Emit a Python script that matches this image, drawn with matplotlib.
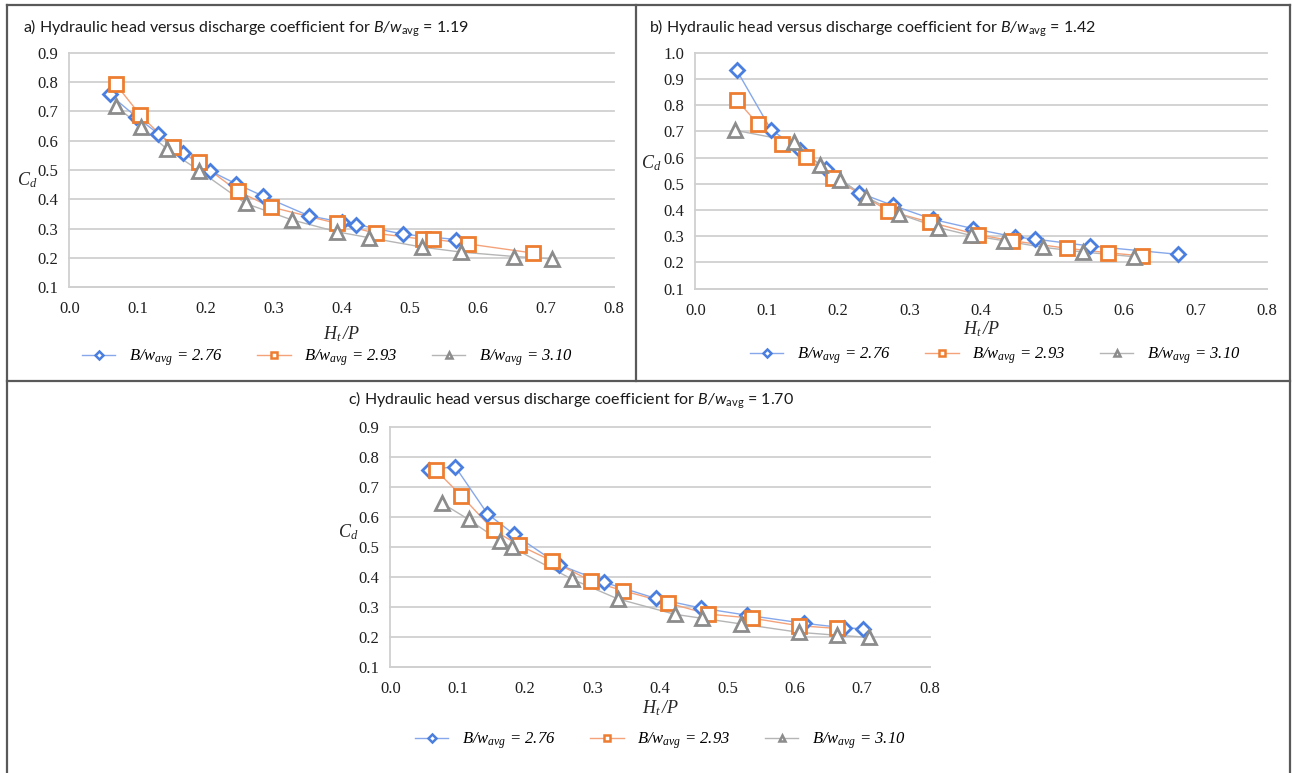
import matplotlib
matplotlib.use("Agg")
import matplotlib.pyplot as plt
from matplotlib.lines import Line2D

plt.rcParams['font.family'] = ['Liberation Serif']
plt.rcParams['mathtext.fontset'] = 'custom'
plt.rcParams['mathtext.it'] = 'Liberation Serif:italic'
plt.rcParams['mathtext.rm'] = 'Liberation Serif:italic'
plt.rcParams['mathtext.sf'] = 'Lato:italic'
plt.rcParams['mathtext.bf'] = 'Lato'

# ---------------- data ----------------
series_labels = [r'$B/w_{avg}$ = 2.76', r'$B/w_{avg}$ = 2.93', r'$B/w_{avg}$ = 3.10']

# panel a  (B/w_avg = 1.19)
a_x_276 = [0.059, 0.098, 0.131, 0.167, 0.206, 0.245, 0.285, 0.352, 0.401, 0.422, 0.491, 0.568]
a_y_276 = [0.758, 0.682, 0.623, 0.559, 0.498, 0.453, 0.411, 0.344, 0.322, 0.314, 0.281, 0.263]
a_x_293 = [0.068, 0.104, 0.152, 0.191, 0.248, 0.296, 0.393, 0.451, 0.520, 0.535, 0.586, 0.681]
a_y_293 = [0.793, 0.688, 0.578, 0.526, 0.427, 0.374, 0.318, 0.284, 0.264, 0.264, 0.248, 0.217]
a_x_310 = [0.068, 0.106, 0.144, 0.191, 0.259, 0.327, 0.394, 0.441, 0.519, 0.576, 0.654, 0.710]
a_y_310 = [0.718, 0.647, 0.570, 0.498, 0.386, 0.330, 0.289, 0.269, 0.237, 0.220, 0.205, 0.197]

# panel b  (B/w_avg = 1.42)
b_x_276 = [0.058, 0.106, 0.147, 0.183, 0.229, 0.276, 0.333, 0.389, 0.448, 0.476, 0.552, 0.676]
b_y_276 = [0.933, 0.706, 0.629, 0.555, 0.466, 0.418, 0.364, 0.329, 0.297, 0.289, 0.263, 0.231]
b_x_293 = [0.058, 0.088, 0.122, 0.155, 0.193, 0.270, 0.329, 0.395, 0.443, 0.520, 0.578, 0.625]
b_y_293 = [0.820, 0.727, 0.652, 0.601, 0.523, 0.397, 0.353, 0.306, 0.283, 0.254, 0.237, 0.225]
b_x_310 = [0.056, 0.138, 0.174, 0.203, 0.239, 0.285, 0.340, 0.386, 0.432, 0.486, 0.542, 0.614]
b_y_310 = [0.704, 0.661, 0.572, 0.514, 0.450, 0.385, 0.333, 0.303, 0.283, 0.258, 0.240, 0.222]

# panel c  (B/w_avg = 1.70)
c_x_276 = [0.057, 0.096, 0.144, 0.183, 0.250, 0.317, 0.394, 0.461, 0.529, 0.614, 0.673, 0.701]
c_y_276 = [0.757, 0.769, 0.611, 0.543, 0.441, 0.382, 0.328, 0.296, 0.272, 0.245, 0.230, 0.227]
c_x_293 = [0.067, 0.105, 0.153, 0.191, 0.240, 0.297, 0.345, 0.412, 0.471, 0.537, 0.606, 0.662]
c_y_293 = [0.758, 0.672, 0.556, 0.506, 0.453, 0.387, 0.354, 0.313, 0.276, 0.262, 0.237, 0.228]
c_x_310 = [0.077, 0.116, 0.163, 0.180, 0.269, 0.337, 0.422, 0.462, 0.520, 0.606, 0.663, 0.710]
c_y_310 = [0.646, 0.592, 0.520, 0.499, 0.393, 0.327, 0.275, 0.262, 0.243, 0.215, 0.205, 0.198]

x_ticks = [0.0, 0.1, 0.2, 0.3, 0.4, 0.5, 0.6, 0.7, 0.8]
y_ticks_ac = [0.1, 0.2, 0.3, 0.4, 0.5, 0.6, 0.7, 0.8, 0.9]
y_ticks_b = [0.1, 0.2, 0.3, 0.4, 0.5, 0.6, 0.7, 0.8, 0.9, 1.0]

titles = [r'a) Hydraulic head versus discharge coefficient for $\mathsf{B/w}_{\mathbf{avg}}$ = 1.19',
          r'b) Hydraulic head versus discharge coefficient for $\mathsf{B/w}_{\mathbf{avg}}$ = 1.42',
          r'c) Hydraulic head versus discharge coefficient for $\mathsf{B/w}_{\mathbf{avg}}$ = 1.70']

# ---------------- style ----------------
marker_colors = ['#4A7FE0', '#ED7D31', '#8C8C8C']
line_colors = ['#86A8EA', '#F4A27A', '#B5B5B5']
markers = ['D', 's', '^']
msizes = [7.5, 9.5, 9.5]
leg_msizes = [4, 5, 5]

W, H = 1292, 773
fig = plt.figure(figsize=(W / 100, H / 100), dpi=100)


def px_rect(l, r, t, b):
    return [l / W, 1 - b / H, (r - l) / W, (b - t) / H]


def draw_panel(rect, xs, ys, yticks, ylim, cd_y, xlabelpad):
    ax = fig.add_axes(rect)
    for i in range(3):
        ax.plot(xs[i], ys[i], color=line_colors[i], lw=1.0, zorder=2 + i)
        ax.plot(xs[i], ys[i], ls='none', marker=markers[i], ms=msizes[i],
                mfc='white', mec=marker_colors[i], mew=2.0, zorder=5 + i)
    ax.set_xlim(0, 0.8)
    ax.set_ylim(*ylim)
    ax.set_xticks(x_ticks)
    ax.set_xticklabels([f'{v:.1f}' for v in x_ticks])
    ax.set_yticks(yticks)
    ax.set_yticklabels([f'{v:.1f}' for v in yticks])
    ax.tick_params(length=0, labelsize=12, labelcolor='#1f1f1f')
    ax.tick_params(axis='x', pad=10)
    ax.tick_params(axis='y', pad=8)
    for lab in ax.get_xticklabels() + ax.get_yticklabels():
        lab.set_fontfamily('Liberation Serif')
    ax.grid(axis='y', color='#D0D0D0', lw=1.3)
    for gl in ax.get_ygridlines():
        gl.set_clip_on(False)
    ax.set_axisbelow(True)
    for s in ['top', 'right']:
        ax.spines[s].set_visible(False)
    for s in ['left', 'bottom']:
        ax.spines[s].set_color('#D0D0D0')
        ax.spines[s].set_linewidth(1.3)
    ax.set_xlabel(r'$H_t\,/P$', fontsize=13, color='#262626', labelpad=xlabelpad)
    ax.text(-0.078, cd_y, r'$C_d$', transform=ax.transAxes, fontsize=13,
            color='#262626', ha='center', va='center')
    return ax


def add_legend(cx, cy):
    handles = [Line2D([], [], color=line_colors[i], lw=1.0, marker=markers[i],
                      ms=leg_msizes[i], mfc='white', mec=marker_colors[i], mew=1.8)
               for i in range(3)]
    fig.legend(handles, series_labels, loc='center', bbox_to_anchor=(cx / W, 1 - cy / H),
               ncol=3, frameon=False, handlelength=2.0, handletextpad=0.8,
               columnspacing=2.1,
               prop={'family': 'Liberation Serif', 'style': 'italic', 'size': 12})


ax_a = draw_panel(px_rect(69.4, 613.5, 52.7, 287.3),
                  [a_x_276, a_x_293, a_x_310], [a_y_276, a_y_293, a_y_310],
                  y_ticks_ac, (0.1, 0.9), 0.457, 5)
ax_b = draw_panel(px_rect(695.3, 1267.0, 52.7, 288.7),
                  [b_x_276, b_x_293, b_x_310], [b_y_276, b_y_293, b_y_310],
                  y_ticks_b, (0.1, 1.0), 0.533, 0.5)
ax_c = draw_panel(px_rect(390.4, 929.6, 427.3, 666.7),
                  [c_x_276, c_x_293, c_x_310], [c_y_276, c_y_293, c_y_310],
                  y_ticks_ac, (0.1, 0.9), 0.563, 1.5)

add_legend(327, 358)
add_legend(995, 356)
add_legend(660, 741)

# titles
title_kw = dict(family='Lato', fontsize=11.5, color='#1a1a1a', va='center', ha='left')
fig.text(23 / W, 1 - 28 / H, titles[0], **title_kw)
fig.text(649 / W, 1 - 28 / H, titles[1], **title_kw)
fig.text(348 / W, 1 - 400 / H, titles[2], **title_kw)

# panel borders
bc = '#595959'
blw = 1.6


def fline(x0, y0, x1, y1):
    fig.add_artist(Line2D([x0 / W, x1 / W], [1 - y0 / H, 1 - y1 / H],
                          color=bc, lw=blw, transform=fig.transFigure))


fline(7, 5, 1290, 5)
fline(7, 5, 7, 773)
fline(1290, 5, 1290, 773)
fline(7, 381, 1290, 381)
fline(636, 5, 636, 381)

fig.savefig('out.png', dpi=100)
